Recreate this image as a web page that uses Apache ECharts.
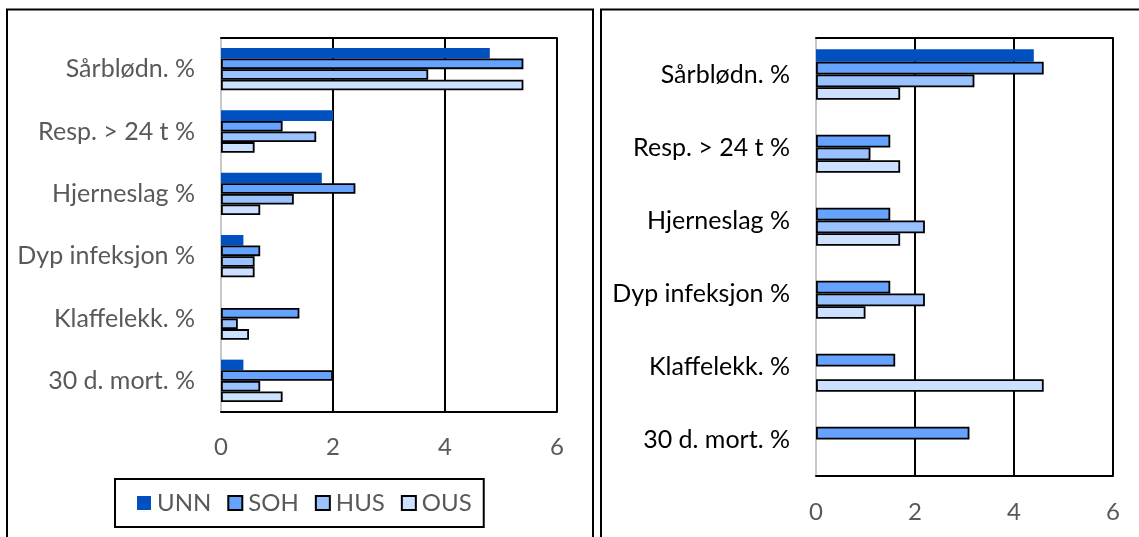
<!DOCTYPE html>
<html>
<head>
<meta charset="utf-8">
<script src="https://cdn.jsdelivr.net/npm/echarts@6/dist/echarts.min.js"></script>
<style>
html,body{margin:0;padding:0;background:#fff;}
#c{width:1139px;height:537px;}
</style>
</head>
<body>
<div id="c"></div>
<script>
var categories = ['Sårblødn. %', 'Resp. > 24 t %', 'Hjerneslag %', 'Dyp infeksjon %', 'Klaffelekk. %', '30 d. mort. %'];
var seriesNames = ['UNN', 'SOH', 'HUS', 'OUS'];
var ticks = [0, 2, 4, 6];

// Left chart
var unnLeft = [4.8, 2.0, 1.8, 0.4, null, 0.4];
var sohLeft = [5.4, 1.1, 2.4, 0.7, 1.4, 2.0];
var husLeft = [3.7, 1.7, 1.3, 0.6, 0.3, 0.7];
var ousLeft = [5.4, 0.6, 0.7, 0.6, 0.5, 1.1];

// Right chart
var unnRight = [4.4, null, null, null, null, null];
var sohRight = [4.6, 1.5, 1.5, 1.5, 1.6, 3.1];
var husRight = [3.2, 1.1, 2.2, 2.2, null, null];
var ousRight = [1.7, 1.7, 1.7, 1.0, 4.6, null];

var colors = ['#0050BF', '#66A3FF', '#99C2FF', '#CCE0FF'];
var FONT = 'Lato';
var FS = 24;
var FSCAT = 25;
var GRAY = '#595959';

var chart = echarts.init(document.getElementById('c'), null, {renderer: 'canvas'});

function xAxisFor(gridIndex, margin) {
  return [{
    type: 'value', gridIndex: gridIndex,
    min: ticks[0], max: ticks[ticks.length - 1], interval: ticks[1] - ticks[0],
    position: 'bottom',
    axisLine: {show: true, lineStyle: {color: '#000', width: 2}},
    axisTick: {show: false},
    axisLabel: {color: GRAY, fontFamily: FONT, fontSize: FS, margin: margin},
    splitLine: {show: true, lineStyle: {color: ['#c8c8c8', '#000', '#000', '#000'], width: 2}}
  }, {
    type: 'value', gridIndex: gridIndex,
    min: ticks[0], max: ticks[ticks.length - 1], interval: ticks[1] - ticks[0],
    position: 'top',
    axisLine: {show: true, lineStyle: {color: '#000', width: 2}},
    axisTick: {show: false}, axisLabel: {show: false}, splitLine: {show: false}
  }];
}

function yAxisFor(gridIndex, labelColor) {
  return {
    type: 'category', gridIndex: gridIndex, data: categories, inverse: true,
    axisLine: {show: false},
    axisTick: {show: false},
    axisLabel: {color: labelColor, fontFamily: FONT, fontSize: FSCAT, margin: 26}
  };
}

function barSeries(name, idx, data, xIdx, yIdx, gap) {
  return {
    type: 'bar', name: name, data: data,
    xAxisIndex: xIdx, yAxisIndex: yIdx,
    barGap: '0%', barCategoryGap: gap,
    itemStyle: idx === 0
      ? {color: colors[idx], borderWidth: 0}
      : {color: colors[idx], borderColor: '#000', borderWidth: 1.8},
    emphasis: {disabled: true},
    animation: false
  };
}

var leftData = [unnLeft, sohLeft, husLeft, ousLeft];
var rightData = [unnRight, sohRight, husRight, ousRight];

var series = [];
seriesNames.forEach(function (n, i) { series.push(barSeries(n, i, leftData[i], 0, 0, '32%')); });
seriesNames.forEach(function (n, i) { series.push(barSeries(n, i, rightData[i], 2, 1, '30.5%')); });

var option = {
  animation: false,
  backgroundColor: '#fff',
  grid: [
    {left: 221, top: 38, width: 336, height: 374, containLabel: false},
    {left: 816, top: 38, width: 297, height: 438, containLabel: false}
  ],
  xAxis: xAxisFor(0, 23).concat(xAxisFor(1, 24)),
  yAxis: [yAxisFor(0, GRAY), yAxisFor(1, '#000')],
  legend: {
    data: seriesNames,
    left: 115, top: 479,
    orient: 'horizontal',
    icon: 'rect',
    itemWidth: 14, itemHeight: 14, itemGap: 16,
    padding: [12, 12, 12, 22],
    borderColor: '#000', borderWidth: 2,
    selectedMode: false,
    textStyle: {color: GRAY, fontFamily: FONT, fontSize: FS, lineHeight: 24, padding: [0, 0, 0, 1]}
  },
  graphic: [
    {type: 'rect', shape: {x: 7, y: 9.5, width: 586, height: 560}, style: {fill: 'none', stroke: '#000', lineWidth: 2}, silent: true},
    {type: 'polyline', shape: {points: [[601, 560], [601, 9.5], [1150, 9.5]]}, style: {fill: 'none', stroke: '#000', lineWidth: 2}, silent: true}
  ],
  series: series
};
chart.setOption(option);
</script>
</body>
</html>
